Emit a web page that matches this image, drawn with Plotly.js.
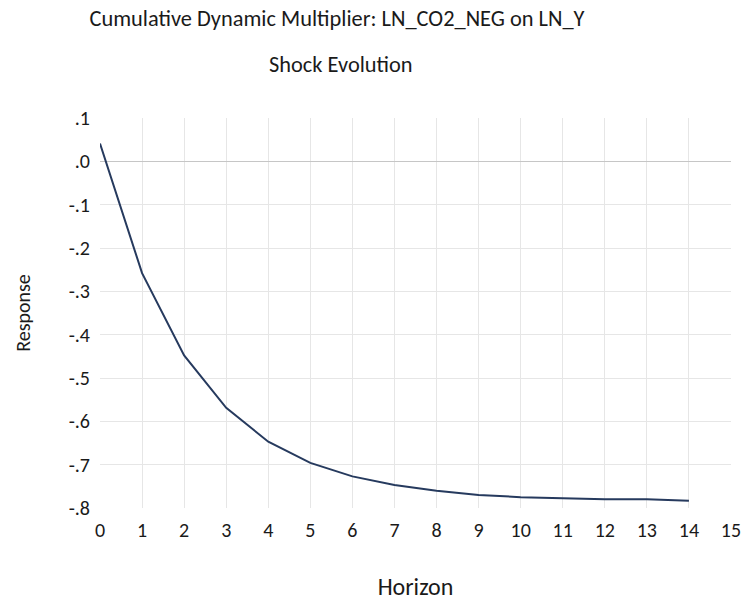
<!DOCTYPE html>
<html>
<head>
<meta charset="utf-8">
<script src="https://cdn.plot.ly/plotly-3.0.1.min.js"></script>
<style>html,body{margin:0;padding:0;background:#fff;}#chart{width:745px;height:601px;}</style>
</head>
<body>
<div id="chart"></div>
<script>
const horizon = [0,1,2,3,4,5,6,7,8,9,10,11,12,13,14];
const response = [0.041,-0.258,-0.448,-0.569,-0.647,-0.696,-0.727,-0.747,-0.760,-0.770,-0.775,-0.778,-0.780,-0.780,-0.783];
const xTickVals = [0,1,2,3,4,5,6,7,8,9,10,11,12,13,14,15];
const xGridVals = [1,2,3,4,5,6,7,8,9,10,11,12,13,14];
const yTickVals = [0.1,0,-0.1,-0.2,-0.3,-0.4,-0.5,-0.6,-0.7,-0.8];
const yTickText = ['.1','.0','-.1','-.2','-.3','-.4','-.5','-.6','-.7','-.8'];
const yGridVals = [-0.1,-0.2,-0.3,-0.4,-0.5,-0.6,-0.7];

const FONT = 'Calibri, Carlito, Lato, sans-serif';
const TXT = '#1a1a1a';

const traces = [
  {x: horizon, y: response, type: 'scatter', mode: 'lines',
   line: {color: '#263a5e', width: 2}, xaxis: 'x', yaxis: 'y', hoverinfo: 'x+y'},
  {x: [], y: [], type: 'scatter', mode: 'lines', xaxis: 'x2', yaxis: 'y2', showlegend: false}
];

const layout = {
  width: 745, height: 601,
  margin: {l: 100, r: 14, t: 118, b: 93},
  paper_bgcolor: '#ffffff', plot_bgcolor: 'rgba(0,0,0,0)',
  showlegend: false,
  font: {family: FONT, color: TXT},
  title: {text: 'Cumulative Dynamic Multiplier: LN_CO2_NEG on LN_Y',
          font: {family: FONT, size: 22.4, color: TXT},
          x: 337/745, xanchor: 'center', xref: 'container',
          y: 1 - 18/601, yanchor: 'middle', yref: 'container'},
  annotations: [{text: 'Shock Evolution', xref: 'paper', yref: 'paper',
                 x: (341-100)/631, y: (508-64)/390, xanchor: 'center', yanchor: 'middle',
                 showarrow: false, font: {family: FONT, size: 22.4, color: TXT}}],
  xaxis: {range: [0, 15], tickvals: xTickVals, ticktext: xTickVals.map(String),
          showgrid: false, zeroline: false, showline: false, ticks: '',
          ticklabelstandoff: 8,
          tickfont: {family: FONT, size: 20, color: TXT},
          title: {text: 'Horizon', font: {family: FONT, size: 24, color: TXT}, standoff: 37},
          fixedrange: true},
  yaxis: {range: [-0.8, 0.1], tickvals: yTickVals, ticktext: yTickText,
          showgrid: false, zeroline: true, zerolinecolor: '#c6c6c6', zerolinewidth: 1.3,
          showline: false, ticks: '', ticklabelstandoff: 9,
          tickfont: {family: FONT, size: 20, color: TXT},
          title: {text: 'Response', font: {family: FONT, size: 20, color: TXT}, standoff: 32},
          fixedrange: true},
  xaxis2: {range: [0, 15], overlaying: 'x', tickvals: xGridVals, showticklabels: false,
           showgrid: true, gridcolor: '#e6e6e6', gridwidth: 1, zeroline: false, ticks: '',
           fixedrange: true},
  yaxis2: {range: [-0.8, 0.1], overlaying: 'y', tickvals: yGridVals, showticklabels: false,
           showgrid: true, gridcolor: '#e6e6e6', gridwidth: 1, zeroline: false, ticks: '',
           fixedrange: true}
};

Plotly.newPlot('chart', traces, layout, {displayModeBar: false, staticPlot: true});
</script>
</body>
</html>
